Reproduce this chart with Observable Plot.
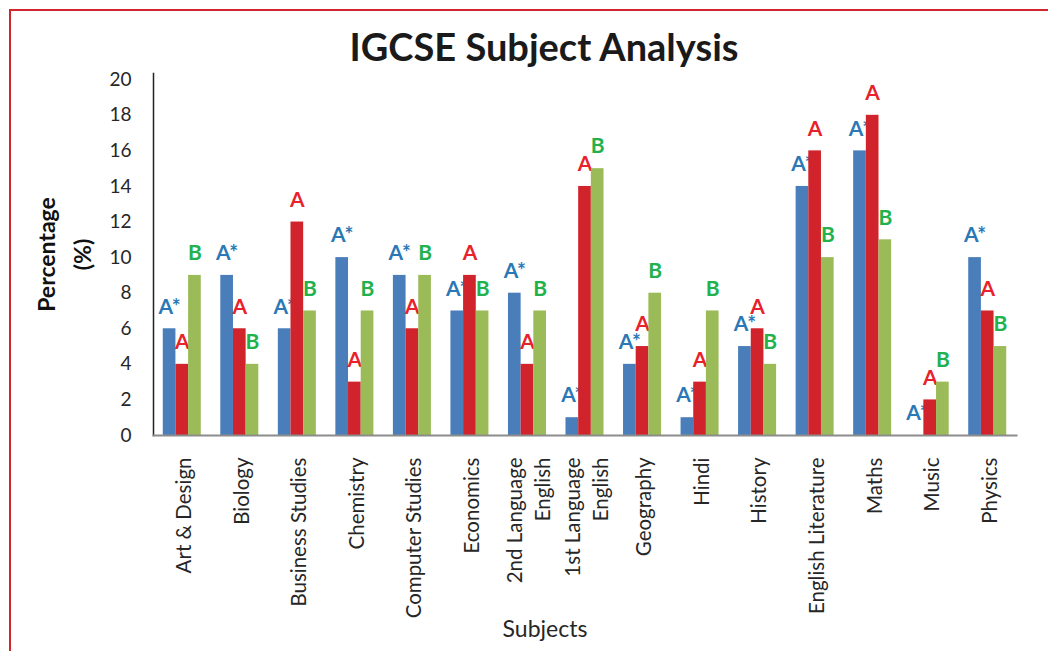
<!DOCTYPE html>
<html><head><meta charset="utf-8">
<script src="https://cdn.jsdelivr.net/npm/d3@7"></script>
<script src="https://cdn.jsdelivr.net/npm/@observablehq/plot@0.6"></script>
<style>
html,body{margin:0;padding:0;background:#fff;}
#wrap{position:relative;width:1048px;height:651px;overflow:hidden;font-family:Lato,sans-serif;}
#border{position:absolute;left:9px;top:9px;right:-5px;bottom:-5px;border-top:2px solid #d3252d;border-left:2px solid #d3252d;pointer-events:none;}
#title{height:44px;line-height:44px;padding-top:24px;padding-bottom:2px;padding-left:40px;text-align:center;font-weight:bold;font-size:38px;color:#1a1a1a;}
#chart svg{display:block;}
</style></head><body>
<div id="wrap"><div id="border"></div><div id="title">IGCSE Subject Analysis</div><div id="chart"></div></div>
<script>
const subjects = ["Art & Design","Biology","Business Studies","Chemistry","Computer Studies","Economics","2nd Language\nEnglish","1st Language\nEnglish","Geography","Hindi","History","English Literature","Maths","Music","Physics"];
const grades = ["A*","A","B"];
const gradeAStar = [6,9,6,10,9,7,8,1,4,1,5,14,16,0,10];
const gradeA = [4,6,12,3,6,9,4,14,5,3,6,16,18,2,7];
const gradeB = [9,4,7,7,9,7,7,15,8,7,4,10,11,3,5];
const yTicks = [0,2,4,6,8,10,12,14,16,18,20];
const barColors = ["#4a7ebb","#d0232b","#9bbb59"];
const labelColors = ["#2a78b5","#e8212b","#22b14c"];

const seriesValues = [gradeAStar, gradeA, gradeB];
const rows = [];
grades.forEach((g, gi) => subjects.forEach((s, si) => rows.push({subject: s, grade: g, value: seriesValues[gi][si]})));

const gradeMarks = grades.flatMap((g, i) => {
  const data = rows.filter(d => d.grade === g);
  return [
    Plot.barY(data, {fx: "subject", x: "grade", y: "value", fill: barColors[i]}),
    Plot.text(data, {fx: "subject", x: "grade", y: "value", text: "grade", dy: -22, fill: labelColors[i], fontSize: 21, fontWeight: "bold"})
  ];
});

const chart = Plot.plot({
  width: 1048, height: 581,
  marginTop: 3, marginBottom: 216, marginLeft: 153, marginRight: 32,
  style: {fontFamily: "Lato, sans-serif", fontSize: "18px", color: "#262626", background: "transparent", overflow: "visible"},
  fx: {domain: subjects, padding: 0, round: false, label: null},
  x: {domain: grades, paddingInner: 0, paddingOuter: 0.77, round: false, axis: null},
  y: {domain: [0, 20.35], axis: null},
  marks: [
    Plot.frame({anchor: "left", facet: "super", stroke: "#222", strokeWidth: 1.5}),
    Plot.axisY({ticks: yTicks, tickSize: 0, tickPadding: 22, fontSize: 19, label: null, fill: "#262626"}),
    Plot.axisFx({anchor: "bottom", tickRotate: -90, tickSize: 0, tickPadding: 22, fontSize: 20.5, lineHeight: 1.35, label: null, fill: "#262626"}),
    ...gradeMarks,
    Plot.frame({anchor: "bottom", facet: "super", stroke: "#8c8c8c", strokeWidth: 2}),
    Plot.text(["Percentage"], {text: d => d, frameAnchor: "left", facet: "super", rotate: -90, textAnchor: "middle", dx: -106, fontSize: 23, fontWeight: "bold", fill: "#111"}),
    Plot.text(["(%)"], {text: d => d, frameAnchor: "left", facet: "super", rotate: -90, textAnchor: "middle", dx: -70, fontSize: 23, fontWeight: "bold", fill: "#111"}),
    Plot.text(["Subjects"], {text: d => d, frameAnchor: "bottom", facet: "super", dx: -40, dy: 201, fontSize: 23, fill: "#262626"})
  ]
});
document.getElementById("chart").appendChild(chart);
</script>
</body></html>
